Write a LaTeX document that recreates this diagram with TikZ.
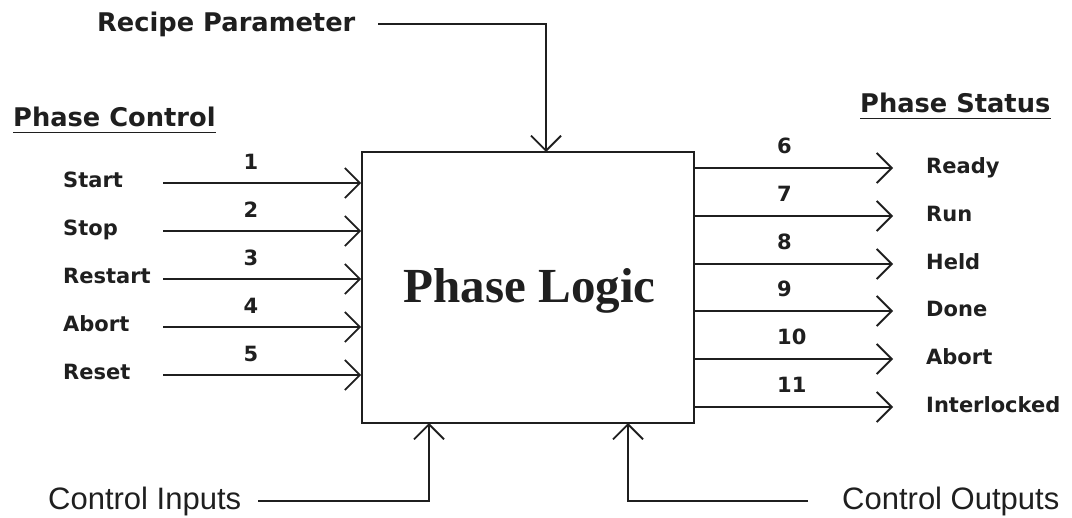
\documentclass[tikz,border=0pt]{standalone}
\usepackage{fontspec}
\setmainfont{Liberation Serif}
\newfontfamily\labelfont{DejaVu Sans}
\newfontfamily\plainsans{Liberation Sans}
\usetikzlibrary{arrows.meta}

\tikzset{
  wire/.style={line width=1.8pt, draw=black!88},
  arr/.style={wire, -{Straight Barb[length=15pt,width=30pt,line width=1.8pt]}},
  sig/.style={inner sep=0pt, anchor=base west, text=black!88,
    font=\labelfont\bfseries\fontsize{21}{25}\selectfont},
  num/.style={inner sep=0pt, anchor=base, text=black!88,
    font=\labelfont\bfseries\fontsize{21}{25}\selectfont},
  numl/.style={num, anchor=base west},
  head/.style={inner sep=0pt, anchor=base west, text=black!88,
    font=\labelfont\bfseries\fontsize{25.7}{30}\selectfont},
  ctl/.style={inner sep=0pt, anchor=base west, text=black!88,
    font=\plainsans\fontsize{31}{36}\selectfont},
}

\begin{document}
\begin{tikzpicture}[x=1pt, y=-1pt]
\useasboundingbox (0,0) rectangle (1072,518);

% central block
\node[draw=black!88, line width=1.8pt, minimum width=332pt, minimum height=271pt,
      inner sep=0pt] (pl) at (528,287.5) {};
\node[inner sep=0pt, anchor=base, text=black!88,
      font=\bfseries\fontsize{49}{56}\selectfont] (plt) at (529.5,303) {Phase Logic};

% phase control inputs
\node[head] (pc) at (13,127) {Phase Control};
\draw[line width=1.4pt, black!88] ([yshift=-5.5pt]pc.base west) -- ([yshift=-5.5pt]pc.base east);

\foreach \i/\lab/\y in {1/Start/183, 2/Stop/231, 3/Restart/279, 4/Abort/327, 5/Reset/375}{
  \node[sig] (in\i) at (63,\y+5) {\lab};
  \node[num] (n\i) at (251,\y-13) {\i};
  \coordinate (s\i) at (163,\y);
  \draw[arr] (s\i) -- (s\i -| pl.west);
}

% phase status outputs
\node[head] (ps) at (860,113) {Phase Status};
\draw[line width=1.4pt, black!88] ([yshift=-5.5pt]ps.base west) -- ([yshift=-5.5pt]ps.base east);

\foreach \i/\lab/\y in {6/Ready/168, 7/Run/216, 8/Held/264, 9/Done/311, 10/Abort/359, 11/Interlocked/407}{
  \node[sig] (out\i) at (926,\y+6) {\lab};
  \node[numl] (n\i) at (777,\y-14) {\i};
  \coordinate (t\i) at (893,\y);
  \draw[arr] (t\i -| pl.east) -- (t\i);
}

% recipe parameter
\node[head] (rp) at (97,32) {Recipe Parameter};
\coordinate (rpS) at (378,24);
\coordinate (rpT) at (546,152);
\draw[arr] (rpS) -| (rpT);

% control inputs / outputs
\node[ctl] (ci) at (48,510) {Control Inputs};
\node[ctl] (co) at (842,510) {Control Outputs};
\coordinate (ciS) at (258,501);
\coordinate (ciT) at (429,423);
\coordinate (coS) at (808,501);
\coordinate (coT) at (628,423);
\draw[arr] (ciS) -| (ciT);
\draw[arr] (coS) -| (coT);
\end{tikzpicture}
\end{document}
